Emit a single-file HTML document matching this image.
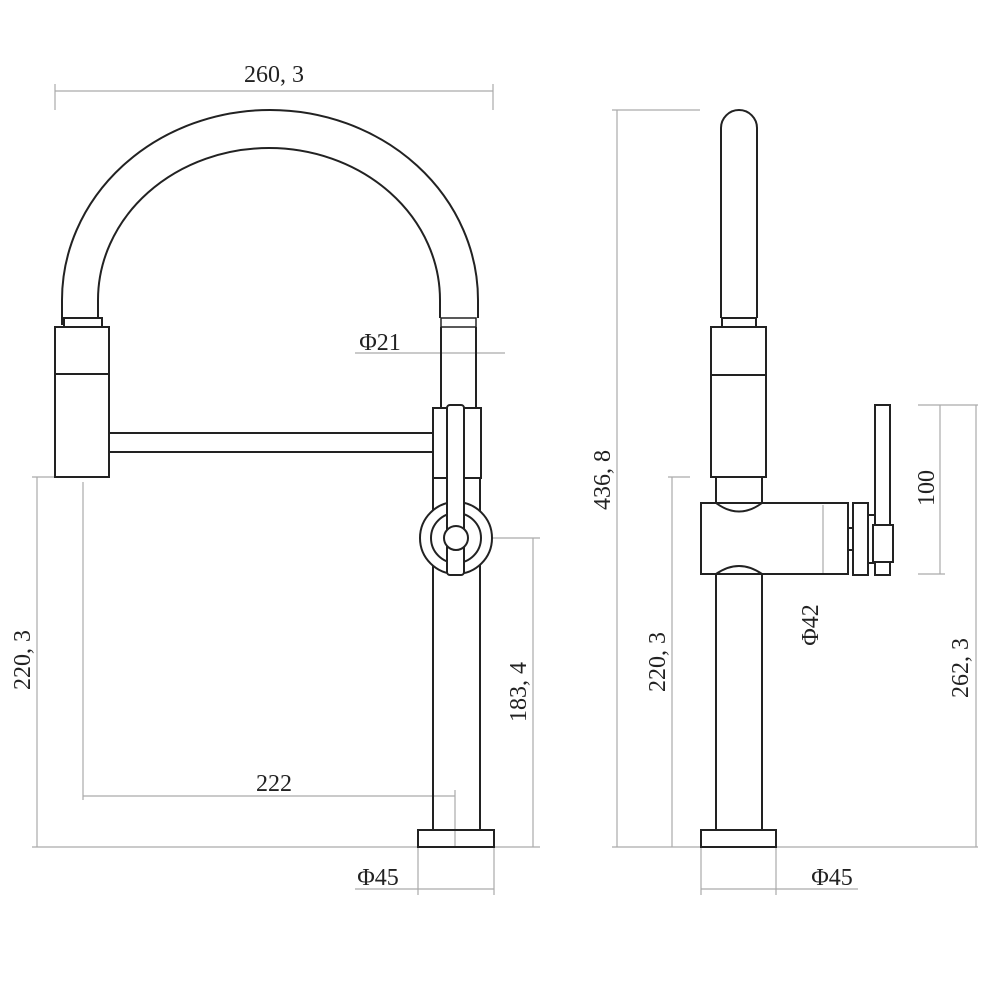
<!DOCTYPE html>
<html><head><meta charset="utf-8"><style>body{margin:0;background:#fff}svg{display:block}</style></head><body>
<svg width="1000" height="1000" viewBox="0 0 1000 1000" xmlns="http://www.w3.org/2000/svg">
<g fill="none" stroke="#aaa" stroke-width="1.2">
<!-- left dims -->
<line x1="55" y1="91" x2="493" y2="91"/><line x1="55" y1="84" x2="55" y2="110"/><line x1="493" y1="84" x2="493" y2="110"/>
<line x1="355" y1="353" x2="505" y2="353"/>
<line x1="37" y1="477" x2="37" y2="847"/><line x1="32" y1="477" x2="55" y2="477"/><line x1="32" y1="847" x2="418" y2="847"/>
<line x1="83" y1="482" x2="83" y2="800"/><line x1="83" y1="796" x2="455" y2="796"/><line x1="455" y1="790" x2="455" y2="847"/>
<line x1="533" y1="538" x2="533" y2="847"/><line x1="492" y1="538" x2="540" y2="538"/><line x1="494" y1="847" x2="540" y2="847"/>
<line x1="355" y1="889" x2="494" y2="889"/><line x1="418" y1="847" x2="418" y2="895"/><line x1="494" y1="847" x2="494" y2="895"/>
<!-- right dims -->
<line x1="617" y1="110" x2="617" y2="847"/><line x1="612" y1="110" x2="700" y2="110"/><line x1="612" y1="847" x2="701" y2="847"/>
<line x1="672" y1="477" x2="672" y2="847"/><line x1="668" y1="477" x2="690" y2="477"/>
<line x1="823" y1="505" x2="823" y2="574"/>
<line x1="940" y1="405" x2="940" y2="574"/><line x1="918" y1="405" x2="978" y2="405"/><line x1="918" y1="574" x2="945" y2="574"/>
<line x1="976" y1="405" x2="976" y2="847"/><line x1="776" y1="847" x2="978" y2="847"/>
<line x1="701" y1="889" x2="858" y2="889"/><line x1="701" y1="847" x2="701" y2="895"/><line x1="776" y1="847" x2="776" y2="895"/>
</g>
<g fill="none" stroke="#222" stroke-width="2">
<!-- left view -->
<path d="M62,325 L62,300 A208,190 0 0 1 478,300 L478,318"/>
<path d="M98,318 L98,300 A171,152 0 0 1 440,300 L440,318"/>
<rect x="64" y="318" width="38" height="9"/><rect x="441" y="318" width="35" height="9" stroke-width="1.5"/>
<rect x="55" y="327" width="54" height="150"/><line x1="55" y1="374" x2="109" y2="374"/>
<rect x="109" y="433" width="324" height="19"/>
<line x1="441" y1="327" x2="441" y2="408"/><line x1="476" y1="327" x2="476" y2="408"/>
<rect x="433" y="408" width="48" height="70"/>
<line x1="433" y1="478" x2="433" y2="830"/><line x1="480" y1="478" x2="480" y2="830"/>
<circle cx="456" cy="538" r="36" fill="#fff"/><circle cx="456" cy="538" r="25"/>
<rect x="447" y="405" width="17" height="170" rx="3" fill="#fff"/>
<circle cx="456" cy="538" r="12" fill="#fff"/>
<rect x="418" y="830" width="76" height="17"/>
<!-- right view -->
<path d="M721,318 L721,128 A18,18 0 0 1 757,128 L757,318"/>
<rect x="722" y="318" width="34" height="9"/>
<rect x="711" y="327" width="55" height="150"/><line x1="711" y1="375" x2="766" y2="375"/>
<path d="M716,477 L716,503 M762,477 L762,503 M716,503 Q739,520 762,503"/>
<path d="M701,503 L848,503 L848,574 L701,574 Z"/>
<path d="M716,574 Q739,558 762,574"/>
<line x1="716" y1="574" x2="716" y2="830"/><line x1="762" y1="574" x2="762" y2="830"/>
<rect x="701" y="830" width="75" height="17"/>
<rect x="853" y="503" width="15" height="72"/><rect x="848" y="528" width="5" height="22"/>
<rect x="868" y="515" width="7" height="48"/>
<rect x="875" y="405" width="15" height="170"/>
<rect x="873" y="525" width="20" height="37" fill="#fff"/>
</g>
<g font-family="Liberation Serif, serif" font-size="24" fill="#222">
<text x="274" y="82" text-anchor="middle">260, 3</text>
<text x="380" y="350" text-anchor="middle">Φ21</text>
<text x="274" y="791" text-anchor="middle">222</text>
<text x="378" y="885" text-anchor="middle">Φ45</text>
<text x="832" y="885" text-anchor="middle">Φ45</text>
<text transform="translate(30,660) rotate(-90)" text-anchor="middle">220, 3</text>
<text transform="translate(526,692) rotate(-90)" text-anchor="middle">183, 4</text>
<text transform="translate(610,480) rotate(-90)" text-anchor="middle">436, 8</text>
<text transform="translate(665,662) rotate(-90)" text-anchor="middle">220, 3</text>
<text transform="translate(818,625) rotate(-90)" text-anchor="middle">Φ42</text>
<text transform="translate(934,488) rotate(-90)" text-anchor="middle">100</text>
<text transform="translate(968,668) rotate(-90)" text-anchor="middle">262, 3</text>
</g>
</svg>
</body></html>
